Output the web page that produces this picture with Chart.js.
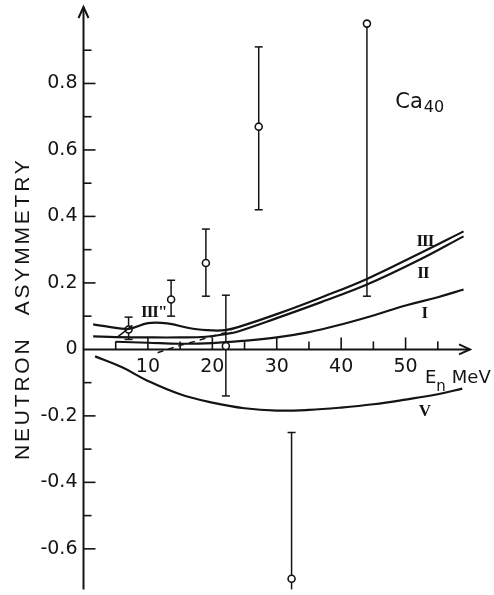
<!DOCTYPE html>
<html lang="en">
<head>
<meta charset="UTF-8">
<title>Ca40 neutron asymmetry</title>
<script src="https://cdn.jsdelivr.net/npm/chart.js"></script>
<style>
  html, body { margin:0; padding:0; background:#fff; }
  #board { width:494px; height:595px; }
</style>
</head>
<body>
<div id="board"><canvas id="chart1" width="494" height="595"></canvas></div>
<script>
// measured asymmetries (E_n in MeV) with error bar ends
const pointE  = [7.0, 13.6, 19.0, 22.1, 27.2, 44.0, 32.3];
const pointA  = [0.06, 0.15, 0.26, 0.01, 0.67, 0.98, -0.69];
const errLow  = [0.03, 0.10, 0.16, -0.14, 0.42, 0.16, -0.80];
const errHigh = [0.097, 0.208, 0.362, 0.163, 0.91, 0.98, -0.25];

// calculated curves
const curve3E = [1.5, 4, 7, 10, 13, 17, 20, 22, 24, 30, 37, 44, 52, 59];
const curve3A = [0.075, 0.068, 0.062, 0.079, 0.078, 0.062, 0.057, 0.058, 0.067, 0.106, 0.157, 0.212, 0.287, 0.355];
const curve2E = [1.5, 5, 10, 15, 19, 22, 24, 30, 37, 44, 52, 59];
const curve2A = [0.039, 0.037, 0.036, 0.036, 0.038, 0.046, 0.054, 0.094, 0.143, 0.195, 0.268, 0.34];
const curve1E = [5, 10, 15, 20, 25, 30, 35, 40, 45, 50, 55, 59];
const curve1A = [0.023, 0.02, 0.017, 0.019, 0.026, 0.036, 0.052, 0.075, 0.102, 0.132, 0.157, 0.18];
const curve5E = [1.8, 6, 10, 15, 20, 25, 30, 35, 40, 45, 50, 55, 58.8];
const curve5A = [-0.021, -0.054, -0.095, -0.135, -0.16, -0.177, -0.184, -0.182, -0.175, -0.165, -0.151, -0.135, -0.118];
const dashE = [11.5, 15, 18, 21, 23];
const dashA = [-0.01, 0.012, 0.028, 0.045, 0.055];
const stubE = [5.2, 7.6];
const stubA = [0.036, 0.072];

// axis ticks
const xTicks = [10, 20, 30, 40, 50];
const xMinor = [5, 15, 25, 35, 45, 55];
const yTicks = [-0.6, -0.4, -0.2, 0, 0.2, 0.4, 0.6, 0.8];
const yMinor = [-0.5, -0.3, -0.1, 0.1, 0.3, 0.5, 0.7, 0.9];

// curve names
const curveNames = ['III', 'II', 'I', 'V', 'III"'];
const nameE = [53.0, 52.7, 52.9, 52.9, 10.9];
const nameA = [0.325, 0.228, 0.108, -0.187, 0.11];

const ink = '#141414';
const pts = (xs, ys) => xs.map((v, i) => ({x: v, y: ys[i]}));

const paperAxes = {
    id: 'paperAxes',
    beforeDatasetsDraw(chart) {
        const {ctx, scales: {x, y}} = chart;
        const x0 = x.getPixelForValue(0), y0 = y.getPixelForValue(0);
        ctx.save();
        ctx.strokeStyle = ink;
        ctx.lineWidth = 2;
        // y axis + arrow
        ctx.beginPath(); ctx.moveTo(x0, y.bottom); ctx.lineTo(x0, y.top); ctx.stroke();
        ctx.beginPath(); ctx.moveTo(x0 - 5, y.top + 11); ctx.lineTo(x0, y.top); ctx.lineTo(x0 + 5, y.top + 11); ctx.stroke();
        // x axis + arrow
        ctx.beginPath(); ctx.moveTo(x0, y0); ctx.lineTo(x.right, y0); ctx.stroke();
        ctx.beginPath(); ctx.moveTo(x.right - 11, y0 - 5); ctx.lineTo(x.right, y0); ctx.lineTo(x.right - 11, y0 + 5); ctx.stroke();
        // ticks, drawn inward
        ctx.lineWidth = 1.6;
        yTicks.filter(v => v !== 0).forEach(v => {
            const p = y.getPixelForValue(v);
            ctx.beginPath(); ctx.moveTo(x0, p); ctx.lineTo(x0 + 12, p); ctx.stroke();
        });
        yMinor.forEach(v => {
            const p = y.getPixelForValue(v);
            ctx.beginPath(); ctx.moveTo(x0, p); ctx.lineTo(x0 + 8, p); ctx.stroke();
        });
        xTicks.forEach(v => {
            const p = x.getPixelForValue(v);
            ctx.beginPath(); ctx.moveTo(p, y0); ctx.lineTo(p, y0 - 12); ctx.stroke();
        });
        xMinor.forEach(v => {
            const p = x.getPixelForValue(v);
            ctx.beginPath(); ctx.moveTo(p, y0); ctx.lineTo(p, y0 - 8); ctx.stroke();
        });
        // error bars
        ctx.lineWidth = 1.5;
        pointE.forEach((e, i) => {
            const px = x.getPixelForValue(e);
            const lo = Math.max(errLow[i], y.min), hi = Math.min(errHigh[i], y.max);
            const pl = y.getPixelForValue(lo), ph = y.getPixelForValue(hi);
            ctx.beginPath(); ctx.moveTo(px, pl); ctx.lineTo(px, ph); ctx.stroke();
            if (errLow[i] >= y.min) { ctx.beginPath(); ctx.moveTo(px - 4, pl); ctx.lineTo(px + 4, pl); ctx.stroke(); }
            if (errHigh[i] <= y.max && errHigh[i] !== pointA[i]) { ctx.beginPath(); ctx.moveTo(px - 4, ph); ctx.lineTo(px + 4, ph); ctx.stroke(); }
        });
        ctx.restore();
    },
    afterDatasetsDraw(chart) {
        const {ctx, scales: {x, y}, chartArea} = chart;
        ctx.save();
        ctx.fillStyle = ink;
        // curve names
        ctx.font = 'bold 17px "Liberation Serif"';
        ctx.letterSpacing = '-1px';
        ctx.textAlign = 'center';
        ctx.textBaseline = 'middle';
        curveNames.forEach((t, i) => {
            ctx.fillText(t, x.getPixelForValue(nameE[i]), y.getPixelForValue(nameA[i]));
        });
        ctx.letterSpacing = '0px';
        // Ca40
        ctx.textAlign = 'left';
        ctx.textBaseline = 'alphabetic';
        let cx = x.getPixelForValue(48.4), cy = y.getPixelForValue(0.727);
        ctx.font = '21px "DejaVu Sans"';
        ctx.fillText('Ca', cx, cy);
        cx += ctx.measureText('Ca').width + 1;
        ctx.font = '16px "DejaVu Sans"';
        ctx.fillText('40', cx, cy + 4);
        // E_n MeV
        let ex = x.getPixelForValue(53.0), ey = y.getPixelForValue(-0.1);
        ctx.font = '18px "DejaVu Sans"';
        ctx.fillText('E', ex, ey);
        ex += ctx.measureText('E').width;
        ctx.font = '15px "DejaVu Sans"';
        ctx.fillText('n', ex, ey + 8);
        ex += ctx.measureText('n').width + 6;
        ctx.font = '18px "DejaVu Sans"';
        ctx.fillText('MeV', ex, ey);
        // axis title
        ctx.font = '21px "Liberation Sans"';
        ctx.letterSpacing = '2.8px';
        ctx.textAlign = 'center';
        ctx.textBaseline = 'middle';
        const tx = chartArea.left - 60;
        [['NEUTRON', -0.147], ['ASYMMETRY', 0.34]].forEach(([t, v]) => {
            ctx.save();
            ctx.translate(tx, y.getPixelForValue(v));
            ctx.rotate(-Math.PI / 2);
            ctx.fillText(t, 0, 0);
            ctx.restore();
        });
        ctx.restore();
    }
};

const curveStyle = {
    type: 'line', borderColor: ink, borderWidth: 2.2, pointRadius: 0,
    tension: 0.4, fill: false
};

const ctx = document.getElementById('chart1').getContext('2d');
new Chart(ctx, {
    type: 'scatter',
    data: {
        datasets: [
            {...curveStyle, label: 'III', data: pts(curve3E, curve3A)},
            {...curveStyle, label: 'II', data: pts(curve2E, curve2A)},
            {...curveStyle, label: 'I', data: pts(curve1E, curve1A)},
            {...curveStyle, label: 'V', data: pts(curve5E, curve5A)},
            {...curveStyle, label: 'dashed', data: pts(dashE, dashA), borderWidth: 1.5, borderDash: [6, 5]},
            {...curveStyle, label: 'stub', data: pts(stubE, stubA), borderWidth: 1.5, tension: 0},
            {
                label: 'measured', data: pts(pointE, pointA),
                pointRadius: 3.5, pointBackgroundColor: '#fff',
                pointBorderColor: ink, pointBorderWidth: 1.6
            }
        ]
    },
    options: {
        responsive: false,
        animation: false,
        events: [],
        layout: { padding: { top: 7, right: 24, bottom: 5, left: 0 } },
        plugins: { legend: { display: false }, tooltip: { enabled: false } },
        scales: {
            x: {
                type: 'linear', min: 0, max: 60,
                position: { y: 0 },
                grid: { display: false, drawTicks: false },
                border: { display: false },
                ticks: {
                    stepSize: 10, autoSkip: false, maxRotation: 0, padding: 6,
                    color: ink, font: { family: 'DejaVu Sans', size: 19 },
                    callback: v => xTicks.includes(v) ? String(v) : ''
                },
                afterFit: s => { s.paddingLeft = 0; s.paddingRight = 0; }
            },
            y: {
                type: 'linear', min: -0.722, max: 1.03,
                grid: { display: false, drawTicks: false },
                border: { display: false },
                ticks: {
                    stepSize: 0.2, includeBounds: false, autoSkip: false, padding: 6,
                    color: ink, font: { family: 'DejaVu Sans', size: 19 },
                    callback: v => {
                        const r = Math.round(v * 10) / 10;
                        return yTicks.includes(r) ? String(r) : '';
                    }
                },
                afterFit: s => { s.width = 83.5; s.paddingTop = 0; s.paddingBottom = 0; }
            }
        }
    },
    plugins: [paperAxes]
});
</script>
</body>
</html>
